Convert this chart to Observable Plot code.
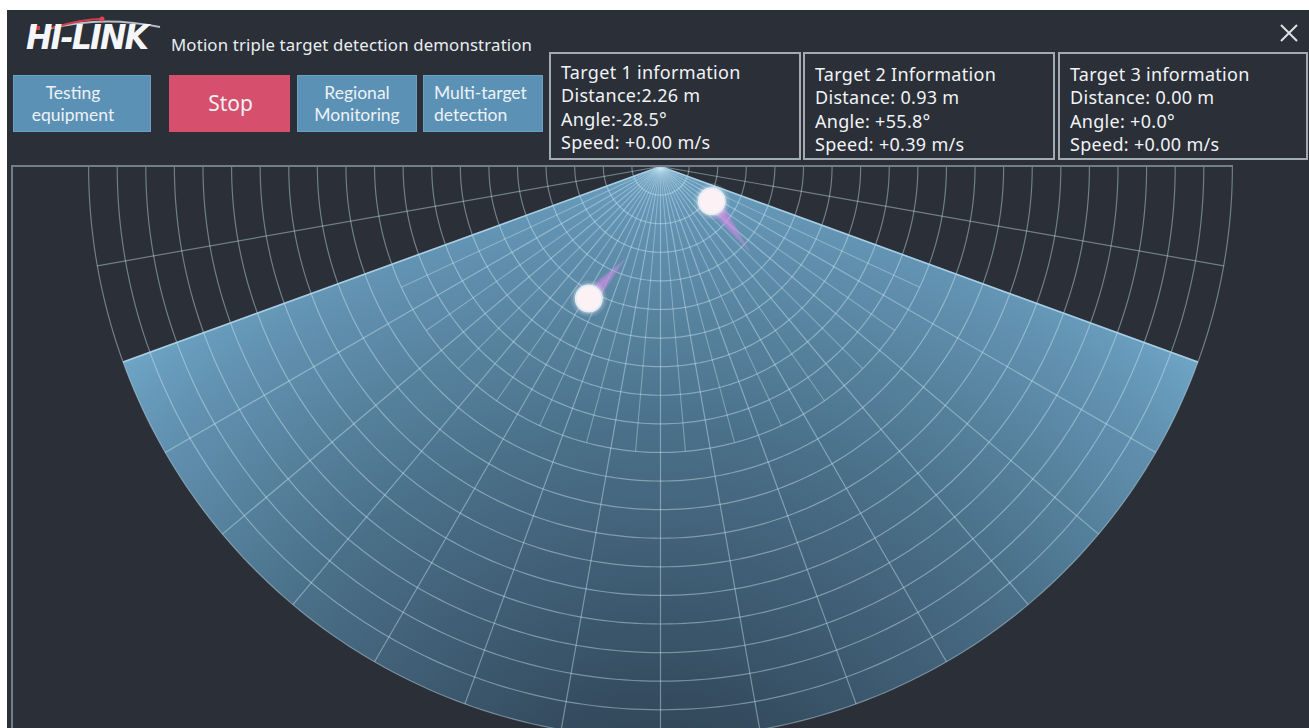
<!DOCTYPE html>
<html>
<head>
<meta charset="utf-8">
<script src="https://cdn.jsdelivr.net/npm/d3@7"></script>
<script src="https://cdn.jsdelivr.net/npm/@observablehq/plot@0.6"></script>
<style>
  html, body { margin: 0; padding: 0; background: #ffffff; width: 1309px; height: 728px; overflow: hidden; }
  body { position: relative; font-family: "Noto Sans", "Open Sans", sans-serif; }
  #app { position: absolute; left: 7px; top: 10px; width: 1302px; height: 718px; background: #2a2f38; }
  #chart { position: absolute; left: 7px; top: 166px; width: 1302px; height: 562px; }
  #frame { position: absolute; left: 11px; top: 165px; width: 1220px; height: 600px;
           border-left: 2px solid #737e88; border-top: 2px solid #737e88; pointer-events: none; }
  .logo { position: absolute; left: 26px; top: 17px; font-family: "DejaVu Sans", sans-serif; font-weight: bold;
          font-style: italic; font-size: 34px; color: #f4f6f8; text-transform: uppercase; letter-spacing: -2px;
          transform-origin: left top; transform: scaleX(0.93); line-height: 40px; white-space: nowrap; }
  .title { position: absolute; left: 171px; top: 34px; font-size: 16.8px; letter-spacing: 0.15px; color: #e9edf0; line-height: 22px; white-space: nowrap; }
  .btn { position: absolute; top: 75px; height: 57px; display: flex; flex-direction: column; align-items: center; justify-content: center;
         text-align: center; color: #edf2f6; font-family: Lato, sans-serif; font-size: 17.5px; line-height: 21.5px; box-sizing: border-box; white-space: nowrap; }
  .btn span { display: block; }
  .blue { background: #5b91b5; border: 1px solid #6aa0c2; }
  .red { background: #d6506d; font-family: "Noto Sans", sans-serif; font-size: 21px; }
  .info { position: absolute; top: 52px; height: 108px; box-sizing: border-box; border: 2px solid #a3abb2;
          color: #f1f3f5; font-size: 18px; letter-spacing: 0.3px; line-height: 23.3px; padding-left: 10px; white-space: nowrap; overflow: hidden; }
  .close { position: absolute; left: 1280px; top: 24px; }
</style>
</head>
<body>
<div id="app"></div>
<svg width="0" height="0" style="position:absolute">
  <defs>
    <radialGradient id="fanGrad" gradientUnits="userSpaceOnUse" cx="653" cy="740" r="790">
      <stop offset="0" stop-color="#2c3c4b"/>
      <stop offset="0.22" stop-color="#32475a"/>
      <stop offset="0.6" stop-color="#4a7089"/>
      <stop offset="0.88" stop-color="#6394b3"/>
      <stop offset="1" stop-color="#72aacb"/>
    </radialGradient>
  </defs>
</svg>
<div id="chart"></div>
<div id="frame"></div>
<div id="header"></div>
<script>
// ---------------- data ----------------
const ringDistances = [0.43, 0.86, 1.29, 1.72, 2.15, 2.58, 3.01, 3.44, 3.87, 4.30,
                       4.73, 5.16, 5.59, 6.02, 6.45, 6.88, 7.31, 7.74, 8.17, 8.60];
const maxRange = 8.60;          // metres, outer ring
const innerRange = 4.30;        // metres, where minor radials stop
const fanAngles = [-70, 70];    // detection field of view, degrees
const majorAngles = [-70, -60, -50, -40, -30, -20, -10, 0, 10, 20, 30, 40, 50, 60, 70];
const outerAngles = [-80, 80];
const minorAngles = [-65, -55, -45, -35, -25, -15, -5, 5, 15, 25, 35, 45, 55, 65];

const targetTitles = ["Target 1 information", "Target 2 Information", "Target 3 information"];
const targetDistance = [2.26, 0.93, 0.00];   // m
const targetAngle = [-28.5, 55.8, 0.0];      // degrees
const targetSpeed = [0.00, 0.39, 0.00];      // m/s
const trailDistance = [1.48, 1.87, 0.00];    // previous position, m
const trailAngle = [-20.8, 46.3, 0.0];       // previous position, degrees

const buttonLines = [["Testing", "equipment"], ["Stop"], ["Regional", "Monitoring"], ["Multi-target", "detection"]];
const titleText = "Motion triple target detection demonstration";

// ---------------- helpers ----------------
const rad = d => d * Math.PI / 180;
const polar = (dist, deg) => ({x: dist * Math.sin(rad(deg)), y: dist * Math.cos(rad(deg))});
const sweep = (a0, a1) => d3.range(a0, a1 + 0.001, 1);

const arcPoints = ringDistances.flatMap((r, i) => sweep(-90, 90).map(a => ({...polar(r, a), ring: i})));
const fanPoly = [{x: 0, y: 0}, ...sweep(fanAngles[0], fanAngles[1]).map(a => polar(maxRange, a)), {x: 0, y: 0}];
const majorLinks = majorAngles.concat(outerAngles).map(a => ({a, ...polar(maxRange, a)}));
const minorLinks = minorAngles.map(a => ({a, ...polar(innerRange, a)}));
const edgeLinks = fanAngles.map(a => ({a, ...polar(maxRange, a)}));

const targets = targetDistance.map((d, i) => ({i, d, ...polar(d, targetAngle[i]),
  px: polar(trailDistance[i], trailAngle[i]).x, py: polar(trailDistance[i], trailAngle[i]).y}))
  .filter(t => t.d > 0);

const pxPerMeter = 66.5;
const W = 1302, H = 562, originPx = 653;
const dotR = 13;

// tapered tail: wedge from the dot towards the previous position
function trailPoly(t, frac, halfWidthPx) {
  const dx = t.px - t.x, dy = t.py - t.y, L = Math.hypot(dx, dy);
  const tx = t.x + dx * frac, ty = t.y + dy * frac;
  const nx = -dy / L, ny = dx / L, w = halfWidthPx / pxPerMeter;
  const s = dotR * 0.4 / pxPerMeter;
  const sx = t.x + dx / L * s, sy = t.y + dy / L * s;
  return [
    {x: sx + nx * w, y: sy + ny * w},
    {x: tx, y: ty},
    {x: sx - nx * w, y: sy - ny * w}
  ];
}
const trailLayers = [[1.0, 8.5, 0.18], [0.88, 6.5, 0.25], [0.7, 4.8, 0.35], [0.48, 3.2, 0.4]];
const trailData = trailLayers.flatMap(([f, w, o], j) =>
  targets.flatMap(t => trailPoly(t, f, w).map(p => ({...p, k: j * 10 + t.i, o}))));

const gridStroke = "#d2ebf7";

const chart = Plot.plot({
  width: W, height: H, margin: 0,
  x: {domain: [-originPx / pxPerMeter, (W - originPx) / pxPerMeter], range: [0, W], axis: null},
  y: {domain: [0, H / pxPerMeter], range: [0, H], axis: null},
  style: {background: "transparent", overflow: "hidden"},
  marks: [
    Plot.line(fanPoly, {x: "x", y: "y", fill: "url(#fanGrad)", stroke: "none"}),
    Plot.line(arcPoints, {x: "x", y: "y", z: "ring", stroke: gridStroke, strokeOpacity: 0.42, strokeWidth: 1.2}),
    Plot.link(majorLinks, {x1: () => 0, y1: () => 0, x2: "x", y2: "y", stroke: gridStroke, strokeOpacity: 0.42, strokeWidth: 1.2}),
    Plot.link(minorLinks, {x1: () => 0, y1: () => 0, x2: "x", y2: "y", stroke: gridStroke, strokeOpacity: 0.36, strokeWidth: 1.1}),
    Plot.link(edgeLinks, {x1: () => 0, y1: () => 0, x2: "x", y2: "y", stroke: "#a9d3e8", strokeOpacity: 0.9, strokeWidth: 1.6}),
    Plot.line(trailData, {x: "x", y: "y", z: "k", fill: "#cf8fe6", fillOpacity: 0.32, stroke: "none"}),
    Plot.dot(targets, {x: "x", y: "y", r: dotR + 5, fill: "#ffffff", fillOpacity: 0.12, stroke: "none"}),
    Plot.dot(targets, {x: "x", y: "y", r: dotR + 2.5, fill: "#ffffff", fillOpacity: 0.25, stroke: "none"}),
    Plot.dot(targets, {x: "x", y: "y", r: dotR, fill: "#fcf2f6", stroke: "#e4eef5", strokeWidth: 2})
  ]
});
document.getElementById("chart").appendChild(chart);

// ---------------- header ----------------
const header = document.getElementById("header");
const fmtSigned = (v, d) => (v >= 0 ? "+" : "") + v.toFixed(d);
const sep = ["", " ", " "];
const boxLeft = [549, 803, 1058], boxWidth = [252, 252, 250], boxPadTop = [7, 9, 9];
let html = "";
html += `<svg style="position:absolute;left:22px;top:12px" width="140" height="24">
  <path d="M26,17 Q80,3 138,15" stroke="#b8bfc6" stroke-width="2" fill="none"/>
  <path d="M30,16 Q60,7 80,7" stroke="#d43c4c" stroke-width="2" fill="none"/>
  <circle cx="80" cy="7" r="2.5" fill="#e2424f"/>
  <rect x="8" y="14" width="4" height="4" fill="#d4404e"/><rect x="14" y="14" width="4" height="4" fill="#d4404e"/>
</svg>`;
html += `<div class="logo">Hi-Link</div>`;
html += `<div class="title">${titleText}</div>`;
const btnLeft = [13, 169, 297, 423], btnWidth = [138, 121, 120, 120], btnCls = ["blue", "red", "blue", "blue"];
const btnStyle = ["padding-right:18px", "padding-left:2px", "", "align-items:flex-start;text-align:left;padding-left:10px"];
buttonLines.forEach((lines, i) => {
  html += `<div class="btn ${btnCls[i]}" style="left:${btnLeft[i]}px;width:${btnWidth[i]}px;${btnStyle[i]}">` +
    lines.map(l => `<span>${l}</span>`).join("") + `</div>`;
});
targetTitles.forEach((t, i) => {
  html += `<div class="info" style="left:${boxLeft[i]}px;width:${boxWidth[i]}px;padding-top:${boxPadTop[i]}px">` +
    `${t}<br>Distance:${sep[i]}${targetDistance[i].toFixed(2)} m<br>` +
    `Angle:${sep[i]}${fmtSigned(targetAngle[i], 1)}°<br>Speed: ${fmtSigned(targetSpeed[i], 2)} m/s</div>`;
});
html += `<svg class="close" width="18" height="18"><path d="M1,1 L17,17 M17,1 L1,17" stroke="#dde2e6" stroke-width="2"/></svg>`;
header.innerHTML = html;
</script>
</body>
</html>
